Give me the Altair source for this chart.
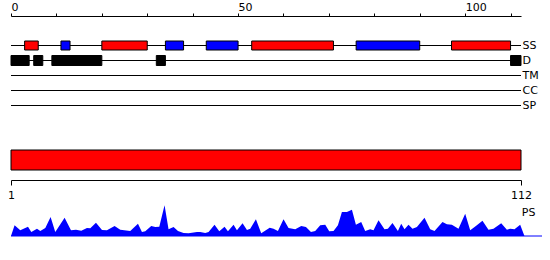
import altair as alt
import pandas as pd

# ---------------- data ----------------
TRACKS = ["SS", "D", "TM", "CC", "SP"]
TOP_MAX = 112.3
TOP_TICKS = [0, 10, 20, 30, 40, 50, 60, 70, 80, 90, 100, 110]

SS_START = [3, 11, 20, 34, 43, 53, 76, 97]
SS_END = [6, 13, 30, 38, 50, 71, 90, 110]
SS_KIND = ["helix", "strand", "helix", "strand", "strand", "helix", "strand", "helix"]

D_START = [0, 5, 9, 32, 110]
D_END = [4, 7, 20, 34, 112.3]

SEQ_START = 1
SEQ_END = 112
PS_END = 116.6

PS_POS = [1.0, 1.78, 3.02, 4.70, 5.42, 6.66, 7.38, 8.47, 9.62, 10.64, 12.67, 14.06,
          15.15, 16.30, 17.54, 18.26, 19.50, 20.81, 21.89, 23.55, 24.79, 26.96, 28.64,
          29.51, 30.23, 31.53, 32.41, 33.28, 34.43, 35.30, 36.39, 37.35, 38.57, 39.65,
          41.48, 42.20, 43.29, 44.01, 45.31, 46.34, 47.49, 48.23, 49.45, 50.19, 51.41,
          52.37, 53.08, 54.32, 55.47, 57.32, 58.15, 59.11, 60.33, 61.42, 62.88, 64.19,
          65.21, 66.30, 67.23, 68.32, 69.41, 70.28, 71.21, 72.17, 73.04, 74.13, 75.22,
          76.09, 77.24, 78.11, 79.20, 79.92, 81.01, 82.31, 83.05, 84.05, 85.23, 85.95,
          86.67, 87.54, 88.41, 89.37, 91.02, 92.26, 93.20, 94.94, 95.90, 96.98, 98.42,
          99.88, 100.97, 102.21, 103.64, 104.95, 106.04, 107.72, 108.96, 109.68, 110.61,
          111.85, 112.78]
PS_VAL = [0, 10.7, 5.7, 9.3, 4, 7.3, 5, 8, 19, 4, 18.3, 5.7,
          6.3, 5.3, 8, 7.7, 13.3, 6, 5.7, 10, 6.3, 5, 12.3,
          4, 4.7, 10, 9, 9.3, 30.7, 6.7, 9, 5, 3, 2.7,
          4, 4, 3, 4, 11.3, 4.7, 9.3, 4.7, 11.3, 5.7, 12.7,
          6, 7.3, 16.7, 2.7, 8.3, 7.3, 5, 16.7, 8, 6.7, 10,
          9, 4, 5, 10.7, 11.3, 4.7, 5, 10.7, 24, 24, 26.3,
          11.3, 14, 5, 6.7, 5.7, 15.7, 6.7, 7.3, 13, 5, 12.3,
          6.7, 11.3, 7.3, 9, 18.3, 6.7, 5, 14, 11.7, 11.3, 7.3,
          22.3, 5.7, 10, 15.3, 6.3, 7.3, 12.7, 6.3, 7.3, 6.7,
          11.3, 0]

FONT = "DejaVu Sans"

# ---------------- panel A: feature tracks ----------------
x_top = alt.X(
    "start:Q",
    scale=alt.Scale(domain=[0, TOP_MAX], nice=False, zero=False),
    axis=alt.Axis(
        orient="top", values=TOP_TICKS,
        labelExpr="datum.value % 50 === 0 ? datum.label : ''",
        tickSize=3, labelAlign="left", labelOffset=0, labelPadding=1,
        labelFlush=False, offset=22, grid=False, labelFontSize=11,
    ),
    title=None,
)
y_tr = alt.Y(
    "track:N",
    scale=alt.Scale(domain=TRACKS, paddingInner=0, paddingOuter=0),
    axis=alt.Axis(orient="right", domain=False, ticks=False, labelPadding=1,
                  labelFontSize=11),
    title=None,
)

lines_df = pd.DataFrame({"track": TRACKS, "start": [0] * len(TRACKS),
                         "end": [TOP_MAX] * len(TRACKS)})
ss_df = pd.DataFrame({"track": "SS", "start": SS_START, "end": SS_END, "kind": SS_KIND})
d_df = pd.DataFrame({"track": "D", "start": D_START, "end": D_END})

lines = alt.Chart(lines_df).mark_rule(color="black", strokeWidth=1).encode(
    x=x_top, x2="end:Q", y=y_tr)
ss = alt.Chart(ss_df).mark_bar(size=9, stroke="black", strokeWidth=1, cornerRadius=0).encode(
    x=x_top, x2="end:Q", y=y_tr,
    color=alt.Color("kind:N", scale=alt.Scale(domain=["helix", "strand"],
                                              range=["#ff0000", "#0000ff"]), legend=None))
dd = alt.Chart(d_df).mark_bar(size=10, color="black", stroke="black", strokeWidth=1,
                              cornerRadius=0).encode(
    x=x_top, x2="end:Q", y=y_tr)

panel_a = alt.layer(lines, ss, dd).properties(width=510, height=75)

# ---------------- panel B: sequence bar ----------------
seq_df = pd.DataFrame({"start": [SEQ_START], "end": [SEQ_END]})
x_seq = alt.X(
    "start:Q",
    scale=alt.Scale(domain=[SEQ_START, SEQ_END], nice=False, zero=False),
    axis=alt.Axis(orient="bottom", values=[SEQ_START, SEQ_END], tickSize=5,
                  labelPadding=4, labelFlush=False, offset=10, grid=False,
                  labelFontSize=11),
    title=None,
)
panel_b = alt.Chart(seq_df).mark_rect(color="#ff0000", stroke="black", strokeWidth=1).encode(
    x=x_seq, x2="end:Q").properties(width=510, height=20)

# ---------------- panel C: PS profile ----------------
ps_df = pd.DataFrame({"pos": PS_POS, "val": PS_VAL})
x_ps = alt.X("pos:Q", scale=alt.Scale(domain=[SEQ_START, PS_END], nice=False, zero=False),
             axis=None)
y_ps = alt.Y("val:Q", scale=alt.Scale(domain=[0, 31], nice=False), axis=None)

base_df = pd.DataFrame({"pos": [SEQ_START], "end": [PS_END], "val": [0]})
baseline = alt.Chart(base_df).mark_rule(color="#0000ff", strokeWidth=1).encode(
    x=x_ps, x2="end:Q", y=y_ps)
area = alt.Chart(ps_df).mark_area(color="#0000ff", interpolate="linear").encode(
    x=x_ps, y=y_ps)
lab_df = pd.DataFrame({"pos": [SEQ_END], "label": ["PS"]})
ps_label = alt.Chart(lab_df).mark_text(align="left", baseline="alphabetic", dx=1,
                                       fontSize=11, color="black").encode(
    x=x_ps, y=alt.value(11), text="label:N")

panel_c = alt.layer(baseline, area, ps_label).properties(width=531, height=31)

chart = alt.vconcat(
    panel_a,
    alt.vconcat(panel_b, panel_c, spacing=3),
    spacing=35,
).properties(
    padding={"left": 7, "top": 0, "right": 0, "bottom": 0},
    background="white",
).configure_view(stroke="transparent").configure_axis(
    labelFont=FONT, labelColor="black", domainColor="black", tickColor="black",
    domainWidth=1, tickWidth=1,
).configure_text(font=FONT)

chart.save("out.html", embed_options={"renderer": "svg", "actions": False})
